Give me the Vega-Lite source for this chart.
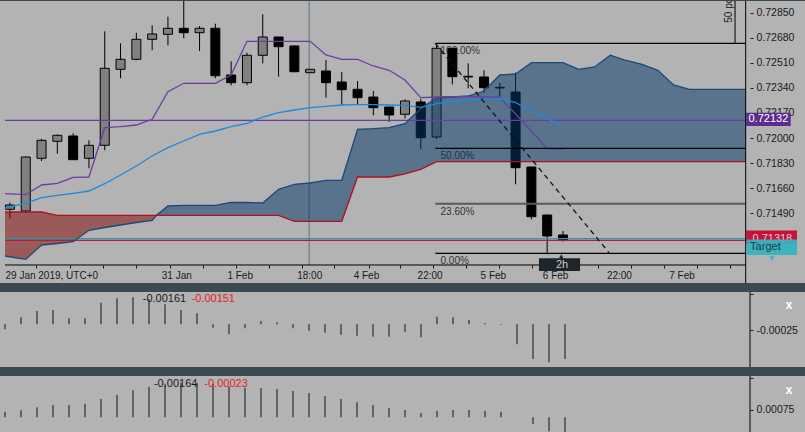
{
  "$schema": "https://vega.github.io/schema/vega-lite/v6.json",
  "background": "#3b4953",
  "padding": 0,
  "spacing": 5,
  "config": {
    "view": {"stroke": null, "fill": "#b3b3b3"},
    "font": "Liberation Sans, Arial, sans-serif",
    "axis": {"labelFont": "Liberation Sans, Arial, sans-serif"},
    "text": {"font": "Liberation Sans, Arial, sans-serif"}
  },
  "datasets": {
    "candles": [
      {"t":0,"o":0.71517,"h":0.715618,"l":0.71456,"c":0.715462},
      {"t":1,"o":0.715055,"h":0.71875,"l":0.714919,"c":0.718716},
      {"t":2,"o":0.718628,"h":0.719957,"l":0.718445,"c":0.719848},
      {"t":3,"o":0.719781,"h":0.72025,"l":0.71894,"c":0.720187},
      {"t":4,"o":0.72014,"h":0.720323,"l":0.718533,"c":0.718533},
      {"t":5,"o":0.718628,"h":0.719848,"l":0.71795,"c":0.719509},
      {"t":6,"o":0.719509,"h":0.727239,"l":0.71917,"c":0.72473},
      {"t":7,"o":0.724662,"h":0.726425,"l":0.724052,"c":0.72534},
      {"t":8,"o":0.72534,"h":0.727144,"l":0.725272,"c":0.726696},
      {"t":9,"o":0.726696,"h":0.727645,"l":0.72595,"c":0.727056},
      {"t":10,"o":0.727035,"h":0.728229,"l":0.726289,"c":0.727442},
      {"t":11,"o":0.727442,"h":0.72929,"l":0.726764,"c":0.727144},
      {"t":12,"o":0.727144,"h":0.727598,"l":0.725903,"c":0.727442},
      {"t":13,"o":0.727442,"h":0.727754,"l":0.724052,"c":0.724228},
      {"t":14,"o":0.724276,"h":0.725205,"l":0.723577,"c":0.723754},
      {"t":15,"o":0.723754,"h":0.725788,"l":0.723577,"c":0.725611},
      {"t":16,"o":0.725611,"h":0.728391,"l":0.725069,"c":0.726852},
      {"t":17,"o":0.726852,"h":0.726852,"l":0.724161,"c":0.726195},
      {"t":18,"o":0.726242,"h":0.726289,"l":0.724459,"c":0.7245},
      {"t":19,"o":0.724432,"h":0.724662,"l":0.724432,"c":0.724662},
      {"t":20,"o":0.724547,"h":0.725293,"l":0.722737,"c":0.723754},
      {"t":21,"o":0.723801,"h":0.724479,"l":0.722242,"c":0.723279},
      {"t":22,"o":0.723306,"h":0.723869,"l":0.722289,"c":0.722737},
      {"t":23,"o":0.722784,"h":0.723191,"l":0.721543,"c":0.722059},
      {"t":24,"o":0.722106,"h":0.722106,"l":0.721089,"c":0.721564},
      {"t":25,"o":0.721611,"h":0.722628,"l":0.72134,"c":0.722513},
      {"t":26,"o":0.722445,"h":0.722649,"l":0.719238,"c":0.720025},
      {"t":27,"o":0.720072,"h":0.726425,"l":0.719916,"c":0.726086},
      {"t":28,"o":0.726086,"h":0.726086,"l":0.723645,"c":0.724161},
      {"t":29,"o":0.724188,"h":0.725069,"l":0.723374,"c":0.72414},
      {"t":30,"o":0.72414,"h":0.724594,"l":0.723076,"c":0.723415},
      {"t":31,"o":0.723442,"h":0.723754,"l":0.722805,"c":0.723394},
      {"t":32,"o":0.723123,"h":0.724432,"l":0.716865,"c":0.717991},
      {"t":33,"o":0.718038,"h":0.718038,"l":0.714492,"c":0.714669},
      {"t":34,"o":0.714784,"h":0.714784,"l":0.712119,"c":0.71336},
      {"t":35,"o":0.713428,"h":0.713699,"l":0.712974,"c":0.713068}
    ],
    "ichi": [
      {"t":-0.3125,"a":0.712004,"b":0.714987,"seg":"down"},
      {"t":1,"a":0.71178,"b":0.714987,"seg":"down"},
      {"t":2,"a":0.71275,"b":0.714987,"seg":"down"},
      {"t":3,"a":0.712851,"b":0.714763,"seg":"down"},
      {"t":4,"a":0.712974,"b":0.714763,"seg":"down"},
      {"t":5,"a":0.713746,"b":0.714763,"seg":"down"},
      {"t":6,"a":0.713936,"b":0.714763,"seg":"down"},
      {"t":7,"a":0.714106,"b":0.714763,"seg":"down"},
      {"t":8,"a":0.714275,"b":0.714763,"seg":"down"},
      {"t":9,"a":0.714424,"b":0.714763,"seg":"down"},
      {"t":9.28,"a":0.714763,"b":0.714763,"seg":"down"},
      {"t":9.28,"a":0.714763,"b":0.714763,"seg":"up"},
      {"t":10,"a":0.715394,"b":0.714763,"seg":"up"},
      {"t":11,"a":0.715441,"b":0.714763,"seg":"up"},
      {"t":12,"a":0.715441,"b":0.714763,"seg":"up"},
      {"t":13,"a":0.715441,"b":0.714763,"seg":"up"},
      {"t":14,"a":0.715645,"b":0.714763,"seg":"up"},
      {"t":15,"a":0.715631,"b":0.714763,"seg":"up"},
      {"t":16,"a":0.715597,"b":0.714763,"seg":"up"},
      {"t":17,"a":0.716526,"b":0.714763,"seg":"up"},
      {"t":18,"a":0.716865,"b":0.714357,"seg":"up"},
      {"t":19,"a":0.716953,"b":0.714357,"seg":"up"},
      {"t":20,"a":0.717136,"b":0.714357,"seg":"up"},
      {"t":21,"a":0.717136,"b":0.714357,"seg":"up"},
      {"t":22,"a":0.720594,"b":0.71736,"seg":"up"},
      {"t":23,"a":0.720635,"b":0.71736,"seg":"up"},
      {"t":24,"a":0.720703,"b":0.71736,"seg":"up"},
      {"t":25,"a":0.720974,"b":0.717564,"seg":"up"},
      {"t":26,"a":0.722004,"b":0.717882,"seg":"up"},
      {"t":27,"a":0.722716,"b":0.718398,"seg":"up"},
      {"t":28,"a":0.722784,"b":0.718398,"seg":"up"},
      {"t":29,"a":0.722852,"b":0.718398,"seg":"up"},
      {"t":30,"a":0.723191,"b":0.718398,"seg":"up"},
      {"t":31,"a":0.724276,"b":0.718398,"seg":"up"},
      {"t":32,"a":0.724344,"b":0.718398,"seg":"up"},
      {"t":33,"a":0.72511,"b":0.718398,"seg":"up"},
      {"t":34,"a":0.72511,"b":0.718398,"seg":"up"},
      {"t":35,"a":0.72511,"b":0.718398,"seg":"up"},
      {"t":36,"a":0.724662,"b":0.718398,"seg":"up"},
      {"t":37,"a":0.724818,"b":0.718398,"seg":"up"},
      {"t":38,"a":0.725611,"b":0.718398,"seg":"up"},
      {"t":39,"a":0.725259,"b":0.718398,"seg":"up"},
      {"t":40,"a":0.725001,"b":0.718398,"seg":"up"},
      {"t":41,"a":0.724594,"b":0.718398,"seg":"up"},
      {"t":42,"a":0.723598,"b":0.718398,"seg":"up"},
      {"t":43,"a":0.723306,"b":0.718398,"seg":"up"},
      {"t":46.5625,"a":0.723306,"b":0.718398,"seg":"up"}
    ],
    "ind": [
      {"t":-0.3125,"p":0.716228,"m":0.715258},
      {"t":1,"p":0.71616,"m":0.715577},
      {"t":2,"p":0.716818,"m":0.715957},
      {"t":3,"p":0.716933,"m":0.716119},
      {"t":4,"p":0.71734,"m":0.716255},
      {"t":5,"p":0.71736,"m":0.716411},
      {"t":6,"p":0.720703,"m":0.716906},
      {"t":7,"p":0.720771,"m":0.717496},
      {"t":8,"p":0.720886,"m":0.718106},
      {"t":9,"p":0.721272,"m":0.718784},
      {"t":10,"p":0.723144,"m":0.719347},
      {"t":11,"p":0.723713,"m":0.719801},
      {"t":12,"p":0.723713,"m":0.720255},
      {"t":13,"p":0.723713,"m":0.720479},
      {"t":14,"p":0.724276,"m":0.720771},
      {"t":15,"p":0.726561,"m":0.721001},
      {"t":16,"p":0.726561,"m":0.721428},
      {"t":17,"p":0.726561,"m":0.72172},
      {"t":18,"p":0.726561,"m":0.721903},
      {"t":19,"p":0.726561,"m":0.722059},
      {"t":20,"p":0.725632,"m":0.722154},
      {"t":21,"p":0.72534,"m":0.722242},
      {"t":22,"p":0.72534,"m":0.722262},
      {"t":23,"p":0.724886,"m":0.722262},
      {"t":24,"p":0.724594,"m":0.722242},
      {"t":25,"p":0.723937,"m":0.722221},
      {"t":26,"p":0.722737,"m":0.722086},
      {"t":27,"p":0.722784,"m":0.72233},
      {"t":28,"p":0.722805,"m":0.722513},
      {"t":29,"p":0.722805,"m":0.722581},
      {"t":30,"p":0.722784,"m":0.722628},
      {"t":31,"p":0.722764,"m":0.722682},
      {"t":32,"p":0.721632,"m":0.722411},
      {"t":33,"p":0.720479,"m":0.721835},
      {"t":34,"p":0.719279,"m":0.72134},
      {"t":35,"p":0.719259,"m":0.720818}
    ],
    "fib": [
      {"lvl":"100.00%","p":0.726425},
      {"lvl":"50.00%","p":0.719306},
      {"lvl":"23.60%","p":0.71555},
      {"lvl":"0.00%","p":0.712187}
    ],
    "osc": [
      {"t":0,"v1":-0.000231,"v2":0.000687},
      {"t":1,"v1":0.000105,"v2":0.00073},
      {"t":2,"v1":0.000282,"v2":0.000825},
      {"t":3,"v1":0.00031,"v2":0.0009},
      {"t":4,"v1":0.000077,"v2":0.0009},
      {"t":5,"v1":0.000077,"v2":0.000942},
      {"t":6,"v1":0.000516,"v2":0.001091},
      {"t":7,"v1":0.000637,"v2":0.001218},
      {"t":8,"v1":0.000665,"v2":0.001367},
      {"t":9,"v1":0.000618,"v2":0.001473},
      {"t":10,"v1":0.000469,"v2":0.001579},
      {"t":11,"v1":0.00031,"v2":0.0016},
      {"t":12,"v1":0.000217,"v2":0.0016},
      {"t":13,"v1":-0.000185,"v2":0.001569},
      {"t":14,"v1":-0.000371,"v2":0.001494},
      {"t":15,"v1":-0.000203,"v2":0.001452},
      {"t":16,"v1":0.000002,"v2":0.001441},
      {"t":17,"v1":-0.000035,"v2":0.001409},
      {"t":18,"v1":-0.000203,"v2":0.001346},
      {"t":19,"v1":-0.000269,"v2":0.001282},
      {"t":20,"v1":-0.000325,"v2":0.001186},
      {"t":21,"v1":-0.000381,"v2":0.001091},
      {"t":22,"v1":-0.000409,"v2":0.000985},
      {"t":23,"v1":-0.000437,"v2":0.0009},
      {"t":24,"v1":-0.000437,"v2":0.000804},
      {"t":25,"v1":-0.000297,"v2":0.00074},
      {"t":26,"v1":-0.000455,"v2":0.000645},
      {"t":27,"v1":0.000123,"v2":0.000709},
      {"t":28,"v1":0.000105,"v2":0.00074},
      {"t":29,"v1":0.00003,"v2":0.00074},
      {"t":30,"v1":-0.000054,"v2":0.000709},
      {"t":31,"v1":-0.00011,"v2":0.000687},
      {"t":32,"v1":-0.000651,"v2":0.000507},
      {"t":33,"v1":-0.001062,"v2":0.000295},
      {"t":34,"v1":-0.001156,"v2":0.000061},
      {"t":35,"v1":-0.001062,"v2":-0.000109}
    ]
  },
  "vconcat": [
    {
      "width": 805,
      "height": 282,
      "resolve": {"scale": {"color": "independent"}, "axis": {"x": "independent", "y": "independent"}},
      "layer": [
        {
          "data": {"values": [{"t": 18.94}]},
          "mark": {"type": "rule", "color": "#7b8895", "strokeWidth": 1.5},
          "encoding": {
            "x": {"field": "t", "type": "quantitative",
              "axis": {"orient": "bottom", "offset": -18,
                "values": [1.675, 3.78, 5.91, 7.96, 10.15, 12.2, 14.29, 16.38, 18.46, 20.54, 22.73, 24.71, 26.8, 28.88, 30.97, 33.06, 35.14, 37.22, 39.31, 41.4, 43.48, 45.56],
                "labels": false, "domain": false, "ticks": true, "tickSize": 3, "tickColor": "#1a1a1a",
                "grid": false, "title": null}},
            "y": {"datum": 0.729293, "type": "quantitative", "axis": null},
            "y2": {"datum": 0.711394}
          }
        },
        {
          "data": {"name": "fib"},
          "mark": {"type": "text", "align": "left", "baseline": "middle", "dy": 8, "fontSize": 10, "color": "#333333"},
          "encoding": {
            "x": {"datum": 27.25, "type": "quantitative", "axis": null},
            "y": {"field": "p", "type": "quantitative", "axis": null},
            "text": {"field": "lvl"}
          }
        },
        {
          "data": {"name": "candles"},
          "mark": {"type": "rule", "color": "#000000", "strokeWidth": 1},
          "encoding": {
            "x": {"field": "t", "type": "quantitative",
              "scale": {"domain": [-0.3125, 50], "nice": false, "zero": false},
              "axis": {"orient": "bottom", "offset": -18,
                "values": [-0.3125, 10.53, 14.54, 18.94, 22.53, 26.56, 30.56, 34.5, 38.54, 42.5],
                "labelExpr": "datum.value < 0 ? '29 Jan 2019, UTC+0' : datum.value < 11 ? '31 Jan' : datum.value < 15 ? '1 Feb' : datum.value < 19 ? '18:00' : datum.value < 23 ? '4 Feb' : datum.value < 27 ? '22:00' : datum.value < 31 ? '5 Feb' : datum.value < 35 ? '6 Feb' : datum.value < 39 ? '22:00' : '7 Feb'",
                "labelAlign": {"expr": "datum.value < 0 ? 'left' : 'center'"},
                "domain": false, "ticks": true, "tickSize": 3, "tickOpacity": 0,
                "labelFontSize": 10, "labelColor": "#1a1a1a", "labelPadding": 2,
                "grid": false, "title": null, "labelFlush": false, "labelOverlap": false, "labelBound": false}},
            "y": {"field": "l", "type": "quantitative",
              "scale": {"domain": [0.710173, 0.729293], "nice": false, "zero": false},
              "axis": {"orient": "right", "offset": -55,
                "values": [0.7285, 0.7268, 0.7251, 0.7234, 0.7217, 0.72, 0.7183, 0.7166, 0.7149, 0.7132],
                "format": ".5f", "domain": false, "tickSize": 3, "tickColor": "#1a1a1a",
                "labelFontSize": 10.5, "labelColor": "#1a1a1a", "labelPadding": 3,
                "grid": false, "title": null, "labelOverlap": false, "labelFlush": false}},
            "y2": {"field": "h"}
          }
        },
        {
          "data": {"name": "candles"},
          "mark": {"type": "bar", "size": 9, "stroke": "#000000", "strokeWidth": 1},
          "encoding": {
            "x": {"field": "t", "type": "quantitative", "axis": null},
            "y": {"field": "o", "type": "quantitative", "axis": null},
            "y2": {"field": "c"},
            "fill": {"condition": {"test": "datum.c >= datum.o", "value": "#808080"}, "value": "#000000"}
          }
        },
        {
          "data": {"name": "ichi"},
          "mark": {"type": "area", "opacity": 0.52},
          "encoding": {
            "x": {"field": "t", "type": "quantitative", "axis": null},
            "y": {"field": "a", "type": "quantitative", "axis": null},
            "y2": {"field": "b"},
            "color": {"field": "seg", "type": "nominal", "legend": null,
              "scale": {"domain": ["down", "up"], "range": ["#850808", "#053868"]}}
          }
        },
        {
          "data": {"values": [{}]},
          "mark": {"type": "rule", "color": "#6b3fa0", "strokeWidth": 1.2},
          "encoding": {
            "x": {"datum": -0.3125, "type": "quantitative", "axis": null},
            "x2": {"datum": 46.5625},
            "y": {"datum": 0.721204, "type": "quantitative", "axis": null}
          }
        },
        {
          "data": {"values": [{}]},
          "mark": {"type": "rule", "color": "#2b98a6", "strokeWidth": 1.2},
          "encoding": {
            "x": {"datum": -0.3125, "type": "quantitative", "axis": null},
            "x2": {"datum": 46.5625},
            "y": {"datum": 0.713177, "type": "quantitative", "axis": null}
          }
        },
        {
          "data": {"values": [{}]},
          "mark": {"type": "rule", "color": "#b0203c", "strokeWidth": 1.2},
          "encoding": {
            "x": {"datum": -0.3125, "type": "quantitative", "axis": null},
            "x2": {"datum": 46.5625},
            "y": {"datum": 0.713068, "type": "quantitative", "axis": null}
          }
        },
        {
          "data": {"name": "ichi"},
          "mark": {"type": "line", "color": "#1b4a76", "strokeWidth": 1.3},
          "encoding": {
            "x": {"field": "t", "type": "quantitative", "axis": null},
            "y": {"field": "a", "type": "quantitative", "axis": null}
          }
        },
        {
          "data": {"name": "ichi"},
          "mark": {"type": "line", "color": "#b01020", "strokeWidth": 1.3},
          "encoding": {
            "x": {"field": "t", "type": "quantitative", "axis": null},
            "y": {"field": "b", "type": "quantitative", "axis": null}
          }
        },
        {
          "data": {"name": "ind"},
          "mark": {"type": "line", "color": "#6b3fa0", "strokeWidth": 1.3},
          "encoding": {
            "x": {"field": "t", "type": "quantitative", "axis": null},
            "y": {"field": "p", "type": "quantitative", "axis": null}
          }
        },
        {
          "data": {"name": "ind"},
          "mark": {"type": "line", "color": "#1e88dc", "strokeWidth": 1.3},
          "encoding": {
            "x": {"field": "t", "type": "quantitative", "axis": null},
            "y": {"field": "m", "type": "quantitative", "axis": null}
          }
        },
        {
          "data": {"name": "fib"},
          "mark": {"type": "rule"},
          "encoding": {
            "x": {"datum": 26.92, "type": "quantitative", "axis": null},
            "x2": {"datum": 46.5625},
            "y": {"field": "p", "type": "quantitative", "axis": null},
            "color": {"condition": {"test": "datum.lvl == '23.60%'", "value": "#5a5a5a"}, "value": "#000000"},
            "strokeWidth": {"condition": {"test": "datum.lvl == '23.60%'", "value": 2}, "value": 1.2}
          }
        },
        {
          "data": {"values": [{"t": 26.92, "p": 0.726425}, {"t": 37.92, "p": 0.712228}]},
          "mark": {"type": "line", "color": "#111111", "strokeWidth": 1.3, "strokeDash": [5, 4]},
          "encoding": {
            "x": {"field": "t", "type": "quantitative", "axis": null},
            "y": {"field": "p", "type": "quantitative", "axis": null}
          }
        },
        {
          "data": {"values": [{}]},
          "mark": {"type": "rule", "color": "#000000", "strokeWidth": 1},
          "encoding": {
            "x": {"datum": 45.89, "type": "quantitative", "axis": null},
            "y": {"datum": 0.726425, "type": "quantitative", "axis": null},
            "y2": {"datum": 0.729293}
          }
        },
        {
          "data": {"values": [{"s": "50 pc"}]},
          "mark": {"type": "text", "angle": 270, "align": "left", "baseline": "middle", "fontSize": 10, "color": "#222222", "clip": true},
          "encoding": {
            "x": {"datum": 45.5, "type": "quantitative", "axis": null},
            "y": {"datum": 0.727822, "type": "quantitative", "axis": null},
            "text": {"field": "s"}
          }
        },
        {
          "data": {"values": [{}]},
          "mark": {"type": "rule", "color": "#000000", "strokeWidth": 1},
          "encoding": {
            "x": {"datum": -0.3125, "type": "quantitative", "axis": null},
            "x2": {"datum": 46.5625},
            "y": {"datum": 0.711394, "type": "quantitative", "axis": null}
          }
        },
        {
          "data": {"values": [{}]},
          "mark": {"type": "rule", "color": "#000000", "strokeWidth": 1},
          "encoding": {
            "x": {"datum": 46.5625, "type": "quantitative", "axis": null}
          }
        },
        {
          "data": {"values": [{}]},
          "mark": {"type": "rect", "color": "#5b2d8c"},
          "encoding": {
            "x": {"datum": 46.59, "type": "quantitative", "axis": null},
            "x2": {"datum": 49.41},
            "y": {"datum": 0.72172, "type": "quantitative", "axis": null},
            "y2": {"datum": 0.720818}
          }
        },
        {
          "data": {"values": [{"s": "0.72132"}]},
          "mark": {"type": "text", "align": "center", "baseline": "middle", "fontSize": 11, "color": "#ffffff"},
          "encoding": {
            "x": {"datum": 48.0, "type": "quantitative", "axis": null},
            "y": {"datum": 0.721265, "type": "quantitative", "axis": null},
            "text": {"field": "s"}
          }
        },
        {
          "data": {"values": [{}]},
          "mark": {"type": "rect", "color": "#c3123c"},
          "encoding": {
            "x": {"datum": 46.59, "type": "quantitative", "axis": null},
            "x2": {"datum": 49.81},
            "y": {"datum": 0.713733, "type": "quantitative", "axis": null},
            "y2": {"datum": 0.712818}
          }
        },
        {
          "data": {"values": [{"s": "0.71318"}]},
          "mark": {"type": "text", "align": "center", "baseline": "middle", "fontSize": 11, "color": "#f4c4d0"},
          "encoding": {
            "x": {"datum": 48.25, "type": "quantitative", "axis": null},
            "y": {"datum": 0.713123, "type": "quantitative", "axis": null},
            "text": {"field": "s"}
          }
        },
        {
          "data": {"values": [{}]},
          "mark": {"type": "rect", "color": "#38b2c0", "opacity": 0.95},
          "encoding": {
            "x": {"datum": 46.625, "type": "quantitative", "axis": null},
            "x2": {"datum": 49.81},
            "y": {"datum": 0.713123, "type": "quantitative", "axis": null},
            "y2": {"datum": 0.712072}
          }
        },
        {
          "data": {"values": [{"s": "Target"}]},
          "mark": {"type": "text", "align": "center", "baseline": "middle", "fontSize": 11, "color": "#1d3a42"},
          "encoding": {
            "x": {"datum": 47.81, "type": "quantitative", "axis": null},
            "y": {"datum": 0.71258, "type": "quantitative", "axis": null},
            "text": {"field": "s"}
          }
        },
        {
          "data": {"values": [{}]},
          "mark": {"type": "point", "shape": "triangle-down", "filled": true, "size": 25, "color": "#38b2c0", "opacity": 1},
          "encoding": {
            "x": {"datum": 48.23, "type": "quantitative", "axis": null},
            "y": {"datum": 0.711834, "type": "quantitative", "axis": null}
          }
        },
        {
          "data": {"values": [{}]},
          "mark": {"type": "rect", "color": "#1e262c"},
          "encoding": {
            "x": {"datum": 33.48, "type": "quantitative", "axis": null},
            "x2": {"datum": 36.08},
            "y": {"datum": 0.711848, "type": "quantitative", "axis": null},
            "y2": {"datum": 0.710987}
          }
        },
        {
          "data": {"values": [{}]},
          "mark": {"type": "point", "shape": "triangle-up", "filled": true, "size": 25, "color": "#1e262c", "opacity": 1},
          "encoding": {
            "x": {"datum": 34.89, "type": "quantitative", "axis": null},
            "y": {"datum": 0.71197, "type": "quantitative", "axis": null}
          }
        },
        {
          "data": {"values": [{"s": "2h"}]},
          "mark": {"type": "text", "align": "center", "baseline": "middle", "fontSize": 11, "color": "#c8ccd0"},
          "encoding": {
            "x": {"datum": 34.94, "type": "quantitative", "axis": null},
            "y": {"datum": 0.711394, "type": "quantitative", "axis": null},
            "text": {"field": "s"}
          }
        }
      ]
    },
    {
      "width": 805,
      "height": 75,
      "layer": [
        {
          "data": {"name": "osc"},
          "mark": {"type": "rule", "color": "#2e2e2e", "strokeWidth": 1.2},
          "encoding": {
            "x": {"field": "t", "type": "quantitative",
              "scale": {"domain": [-0.3125, 50], "nice": false, "zero": false}, "axis": null},
            "y": {"field": "v1", "type": "quantitative",
              "scale": {"domain": [-0.001286, 0.000814], "nice": false, "zero": false},
              "axis": {"orient": "right", "offset": -55, "values": [-0.00025, 0.00075],
                "labelExpr": "datum.value < 0 ? '-0.00025' : ''",
                "domain": false, "tickSize": 3, "tickColor": "#1a1a1a",
                "labelFontSize": 10.5, "labelColor": "#1a1a1a", "labelPadding": 3,
                "grid": false, "title": null, "labelOverlap": false, "labelFlush": false}},
            "y2": {"datum": -0.00009}
          }
        },
        {
          "data": {"values": [{}]},
          "mark": {"type": "rule", "color": "#000000", "strokeWidth": 1},
          "encoding": {"x": {"datum": 46.5625, "type": "quantitative", "axis": null}}
        },
        {
          "data": {"values": [{"t": 8.61, "v": 0.00061, "s": "-0.00161", "k": "a"}, {"t": 11.66, "v": 0.00061, "s": "-0.00151", "k": "b"}]},
          "mark": {"type": "text", "align": "left", "baseline": "middle", "fontSize": 11},
          "encoding": {
            "x": {"field": "t", "type": "quantitative", "axis": null},
            "y": {"field": "v", "type": "quantitative"},
            "text": {"field": "s"},
            "color": {"condition": {"test": "datum.k == 'b'", "value": "#e8201e"}, "value": "#1a1a1a"}
          }
        },
        {
          "data": {"values": [{"s": "x"}]},
          "mark": {"type": "text", "align": "center", "baseline": "middle", "fontSize": 12, "fontWeight": "bold", "color": "#ffffff"},
          "encoding": {
            "x": {"datum": 49.0, "type": "quantitative", "axis": null},
            "y": {"datum": 0.00045, "type": "quantitative"},
            "text": {"field": "s"}
          }
        }
      ]
    },
    {
      "width": 805,
      "height": 65,
      "layer": [
        {
          "data": {"name": "osc"},
          "mark": {"type": "rule", "color": "#2e2e2e", "strokeWidth": 1.2},
          "encoding": {
            "x": {"field": "t", "type": "quantitative",
              "scale": {"domain": [-0.3125, 50], "nice": false, "zero": false}, "axis": null},
            "y": {"field": "v2", "type": "quantitative",
              "scale": {"domain": [-0.000247, 0.001823], "nice": false, "zero": false},
              "axis": {"orient": "right", "offset": -55, "values": [0.00075, 0.00175],
                "labelExpr": "datum.value < 0.001 ? '0.00075' : ''",
                "domain": false, "tickSize": 3, "tickColor": "#1a1a1a",
                "labelFontSize": 10.5, "labelColor": "#1a1a1a", "labelPadding": 3,
                "grid": false, "title": null, "labelOverlap": false, "labelFlush": false}},
            "y2": {"datum": 0.000507}
          }
        },
        {
          "data": {"values": [{}]},
          "mark": {"type": "rule", "color": "#000000", "strokeWidth": 1},
          "encoding": {"x": {"datum": 46.5625, "type": "quantitative", "axis": null}}
        },
        {
          "data": {"values": [{"t": 9.31, "v": 0.001559, "s": "-0.00164", "k": "a"}, {"t": 12.46, "v": 0.001559, "s": "-0.00023", "k": "b"}]},
          "mark": {"type": "text", "align": "left", "baseline": "middle", "fontSize": 11},
          "encoding": {
            "x": {"field": "t", "type": "quantitative", "axis": null},
            "y": {"field": "v", "type": "quantitative"},
            "text": {"field": "s"},
            "color": {"condition": {"test": "datum.k == 'b'", "value": "#e8201e"}, "value": "#1a1a1a"}
          }
        },
        {
          "data": {"values": [{"s": "x"}]},
          "mark": {"type": "text", "align": "center", "baseline": "middle", "fontSize": 12, "fontWeight": "bold", "color": "#ffffff"},
          "encoding": {
            "x": {"datum": 49.0, "type": "quantitative", "axis": null},
            "y": {"datum": 0.001377, "type": "quantitative"},
            "text": {"field": "s"}
          }
        }
      ]
    }
  ]
}
